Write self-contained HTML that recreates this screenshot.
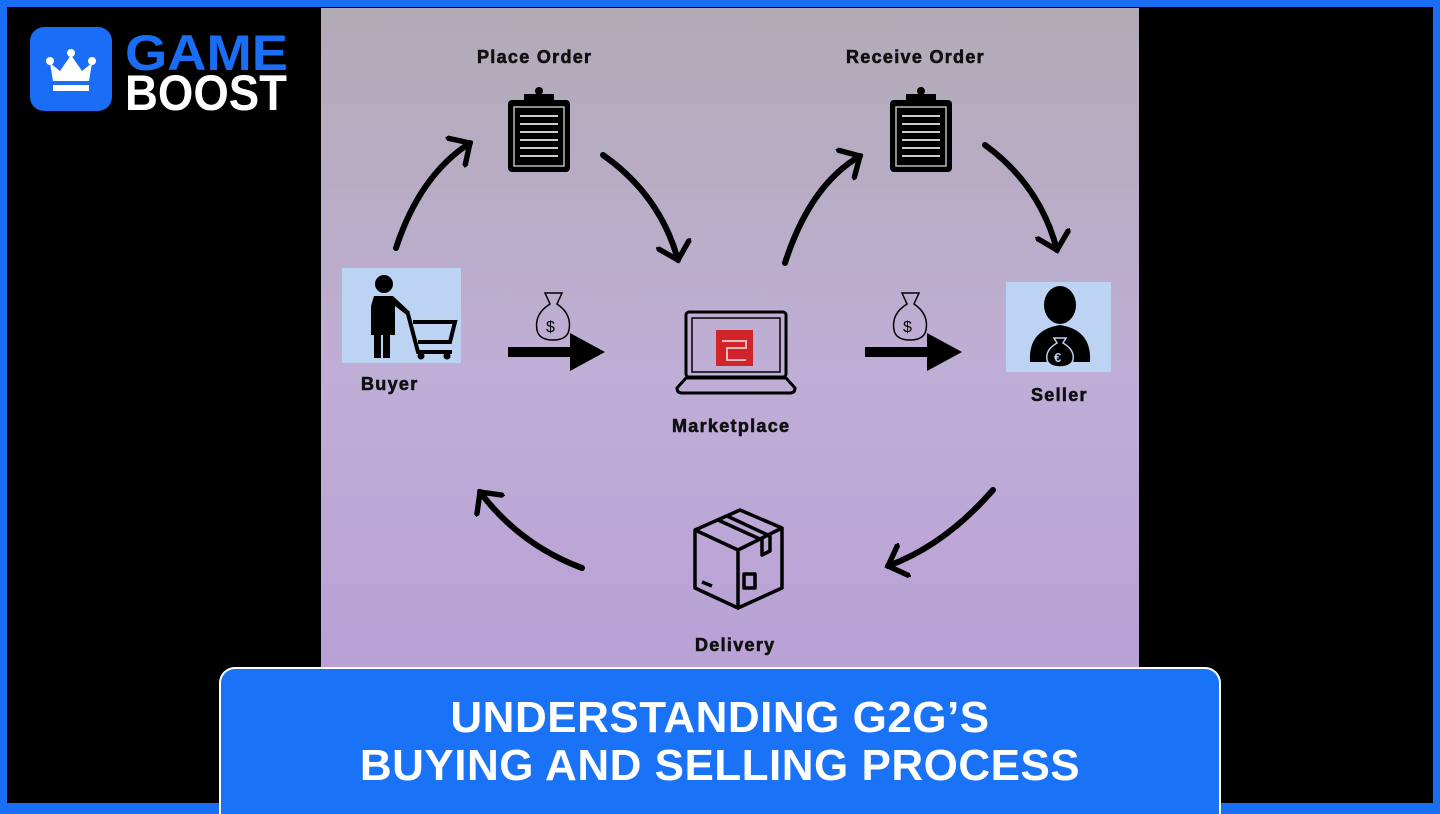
<!DOCTYPE html>
<html><head><style>
body{margin:0;width:1440px;height:810px;background:#1a6ef5;position:relative;overflow:hidden;font-family:"Liberation Sans",sans-serif}
#in{position:absolute;left:7px;top:7px;width:1426px;height:796px;background:#000}
#dg{position:absolute;left:321px;top:8px;width:818px;height:660px;background:linear-gradient(#b1abb5,#bfaed6 55%,#b9a1d6)}
.lbl{position:absolute;font-weight:bold;font-size:18px;color:#111;white-space:nowrap;letter-spacing:1.3px;-webkit-text-stroke:0.6px #111}
#ban{position:absolute;left:219px;top:667px;width:998px;height:145px;background:#1a72f7;border:2px solid #fff;border-bottom:none;border-radius:16px 16px 0 0}
#ban div{text-align:center;color:#fff;font-weight:bold;font-size:44px;line-height:48px;margin-top:25px;letter-spacing:0.5px}
</style></head><body>
<div id="in"></div>
<div id="dg"></div>
<svg style="position:absolute;left:30px;top:27px" width="270" height="90">
<rect x="0" y="0" width="82" height="84" rx="14" fill="#1a6ef5"/>
<path d="M20 36 L30 44 L41 28 L52 44 L62 36 L59 54 L23 54Z" fill="#fff"/><circle cx="20" cy="34" r="4" fill="#fff"/><circle cx="41" cy="26" r="4" fill="#fff"/><circle cx="62" cy="34" r="4" fill="#fff"/>
<rect x="23" y="58" width="36" height="6" fill="#fff"/>
<text x="95" y="43" font-family="Liberation Sans" font-weight="bold" font-size="50" fill="#1a6ef5" textLength="163" lengthAdjust="spacingAndGlyphs">GAME</text>
<text x="95" y="83" font-family="Liberation Sans" font-weight="bold" font-size="50" fill="#fff" textLength="162" lengthAdjust="spacingAndGlyphs">BOOST</text>
</svg>
<div class="lbl" style="left:477px;top:47px">Place Order</div>
<div class="lbl" style="left:846px;top:47px">Receive Order</div>
<div class="lbl" style="left:361px;top:374px">Buyer</div>
<div class="lbl" style="left:672px;top:416px">Marketplace</div>
<div class="lbl" style="left:1031px;top:385px">Seller</div>
<div class="lbl" style="left:695px;top:635px">Delivery</div>
<svg style="position:absolute;left:0;top:0" width="1440" height="810">
<defs><marker id="h" markerWidth="6" markerHeight="6" refX="3" refY="3" orient="auto" markerUnits="strokeWidth"><path d="M0.3,0.3 L3,3 L0.3,5.7" fill="none" stroke="#000" stroke-width="0.9" stroke-linecap="round"/></marker></defs>
<g fill="none" stroke="#000" stroke-width="6" stroke-linecap="round" marker-end="url(#h)">
<path d="M396 248 Q420 175 470 143"/>
<path d="M603 155 Q660 195 678 260"/>
<path d="M785 263 Q810 185 860 156"/>
<path d="M985 145 Q1040 185 1057 250"/>
<path d="M993 490 Q945 545 888 566"/>
<path d="M582 568 Q520 545 480 492"/>
</g>
<g id="cb"><rect x="508" y="100" width="62" height="72" rx="4" fill="#000"/><rect x="514" y="107" width="50" height="59" fill="none" stroke="#bbb" stroke-width="1.5"/><rect x="524" y="94" width="30" height="10" fill="#000"/><circle cx="539" cy="91" r="4" fill="#000"/>
<g stroke="#ccc" stroke-width="2"><line x1="520" y1="116" x2="558" y2="116"/><line x1="520" y1="124" x2="558" y2="124"/><line x1="520" y1="132" x2="558" y2="132"/><line x1="520" y1="140" x2="558" y2="140"/><line x1="520" y1="148" x2="558" y2="148"/><line x1="520" y1="156" x2="558" y2="156"/></g></g>
<use href="#cb" x="382"/>
<rect x="342" y="268" width="119" height="95" fill="#bcd3f3"/>
<circle cx="384" cy="284" r="9" fill="#000"/>
<path d="M374 296 H393 L410 312 L408 316 L395 306 V335 H390 V358 H383 V335 H381 V358 H374 V335 H371 V306Z" fill="#000"/>
<path d="M408 314 L418 352 H452 M413 322 H455 L450 342 H418" fill="none" stroke="#000" stroke-width="4"/>
<circle cx="421" cy="356" r="3.5" fill="#000"/><circle cx="447" cy="356" r="3.5" fill="#000"/>
<rect x="1006" y="282" width="105" height="90" fill="#bcd3f3"/>
<ellipse cx="1060" cy="305" rx="16" ry="19" fill="#000"/>
<path d="M1030 362 Q1028 330 1060 325 Q1092 330 1090 362Z" fill="#000"/>
<path d="M1054 338 H1066 L1063 343 Q1075 350 1073 360 Q1071 367 1060 367 Q1049 367 1047 360 Q1045 350 1057 343Z" fill="#000" stroke="#bcd3f3" stroke-width="1.5"/>
<text x="1054" y="362" font-size="13" font-weight="bold" fill="#bcd3f3" font-family="Liberation Sans">€</text>
<g id="mb" fill="none" stroke="#000" stroke-width="1.5"><path d="M545 293 H562 L557 304 Q572 314 569 330 Q567 340 553 340 Q539 340 537 330 Q534 314 550 304Z"/><text x="546" y="332" font-size="16" fill="#000" stroke="none" font-family="Liberation Sans">$</text></g>
<use href="#mb" x="357"/>
<path d="M508 347 H570 V333 L605 352 L570 371 V357 H508Z" fill="#000"/>
<path d="M865 347 H927 V333 L962 352 L927 371 V357 H865Z" fill="#000"/>
<rect x="686" y="312" width="100" height="65" rx="3" fill="none" stroke="#000" stroke-width="3"/>
<rect x="692" y="318" width="88" height="54" fill="none" stroke="#000" stroke-width="1.5"/>
<path d="M686 378 L677 388 Q677 393 682 393 H790 Q795 393 795 388 L786 378Z" fill="none" stroke="#000" stroke-width="3"/>
<rect x="716" y="330" width="37" height="36" fill="#d1232a"/>
<path d="M722 341 H746 V348 H727 V360 H746" fill="none" stroke="#e9b7bc" stroke-width="2"/>
<g fill="none" stroke="#000" stroke-width="3.5" stroke-linejoin="round"><path d="M695 530 L740 510 L782 528 L782 588 L738 608 L695 588Z"/><path d="M695 530 L738 550 L782 528 M738 550 V608"/><path d="M718 520 L762 540 V555 L770 551 V536 L727 516"/><rect x="744" y="574" width="11" height="14"/><line x1="702" y1="582" x2="712" y2="586"/></g>
</svg>
<div id="ban"><div>UNDERSTANDING G2G’S<br>BUYING AND SELLING PROCESS</div></div>
</body></html>
